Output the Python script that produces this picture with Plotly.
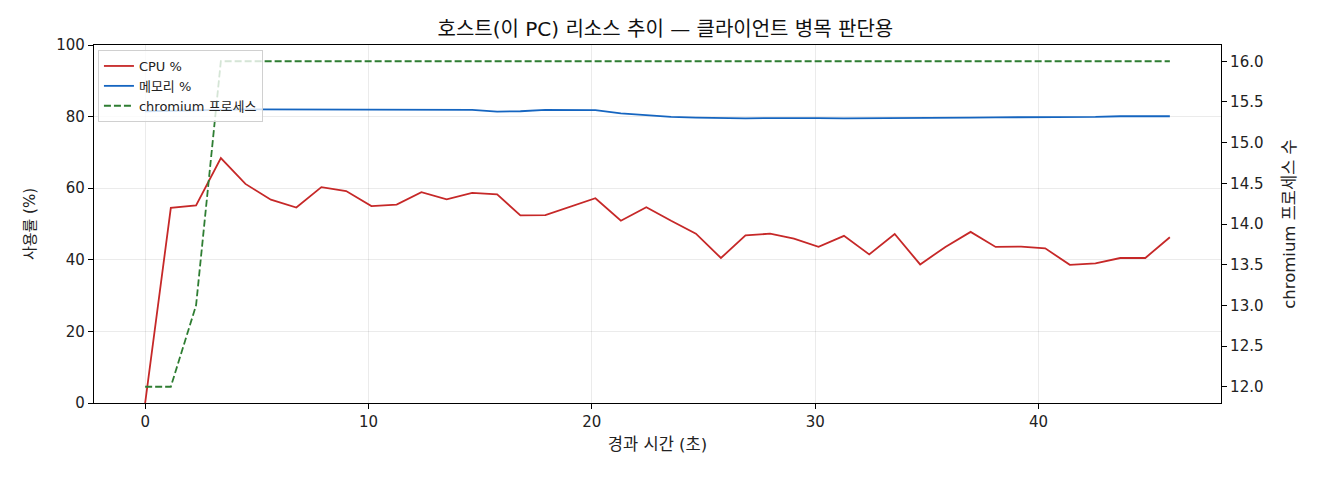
import plotly.graph_objects as go

# 호스트 리소스 추이 (CPU / 메모리 / chromium 프로세스 수)

elapsed_sec = [0, 1.15, 2.28, 3.39, 4.49, 5.63, 6.77, 7.89, 9.0, 10.13,
               11.26, 12.37, 13.5, 14.64, 15.76, 16.8, 17.92, 19.04, 20.16, 21.3,
               22.44, 23.55, 24.66, 25.78, 26.88, 27.98, 29.05, 30.15, 31.29, 32.42,
               33.56, 34.7, 35.83, 36.96, 38.08, 39.22, 40.3, 41.4, 42.55, 43.66,
               44.78, 45.88]

cpu_pct = [0, 54.5, 55.2, 68.4, 61.2, 56.8, 54.6, 60.3, 59.2, 55.0,
           55.4, 58.9, 56.9, 58.7, 58.3, 52.4, 52.5, 54.9, 57.2, 50.9,
           54.7, 50.9, 47.3, 40.5, 46.8, 47.3, 45.9, 43.6, 46.7, 41.5,
           47.2, 38.7, 43.6, 47.8, 43.6, 43.7, 43.2, 38.6, 39.0, 40.5,
           40.5, 46.3]

mem_pct = [81.5, 81.7, 81.8, 81.9, 82.0, 82.0, 82.0, 82.0, 82.0, 82.0,
           81.9, 81.9, 81.8, 81.9, 81.4, 81.5, 81.9, 81.8, 81.8, 80.9,
           80.4, 79.9, 79.7, 79.5, 79.5, 79.6, 79.5, 79.6, 79.5, 79.5,
           79.6, 79.6, 79.7, 79.7, 79.8, 79.8, 79.9, 79.9, 79.9, 80.1,
           80.1, 80.1]

chromium_procs = [12, 12, 13, 16, 16, 16, 16, 16, 16, 16,
                  16, 16, 16, 16, 16, 16, 16, 16, 16, 16,
                  16, 16, 16, 16, 16, 16, 16, 16, 16, 16,
                  16, 16, 16, 16, 16, 16, 16, 16, 16, 16,
                  16, 16]

FONT = 'DejaVu Sans, Noto Sans CJK KR'

fig = go.Figure()

fig.add_trace(go.Scatter(
    x=elapsed_sec, y=cpu_pct, mode='lines', name='CPU %',
    line=dict(color='#C62828', width=1.8)
))
fig.add_trace(go.Scatter(
    x=elapsed_sec, y=mem_pct, mode='lines', name='메모리 %',
    line=dict(color='#1565C0', width=1.8)
))
fig.add_trace(go.Scatter(
    x=elapsed_sec, y=chromium_procs, mode='lines', name='chromium 프로세스',
    line=dict(color='#2E7D32', width=1.8, dash='7px,3px'),
    yaxis='y2'
))

axis_common = dict(
    showline=True, linecolor='black', linewidth=1.2,
    ticks='outside', ticklen=5, tickcolor='black',
    tickfont=dict(size=15, color='#222'),
    zeroline=False,
)

# 페이지 body 여백(8px) 감안해서 margin 조정
fig.update_layout(
    width=1320, height=480,
    margin=dict(l=86, r=107, t=37, b=85),
    plot_bgcolor='white', paper_bgcolor='white',
    font=dict(family=FONT, color='#222'),
    title=dict(text='호스트(이 PC) 리소스 추이 — 클라이언트 병목 판단용',
               x=0.498, xanchor='center', y=0.957, yanchor='middle',
               font=dict(size=20, color='#111')),
    xaxis=dict(
        **axis_common, mirror=True,
        range=[-2.29, 48.17], tickvals=[0, 10, 20, 30, 40],
        showgrid=True, gridcolor='rgba(0,0,0,0.08)',
        title=dict(text='경과 시간 (초)', font=dict(size=16.5), standoff=8),
    ),
    yaxis=dict(
        **axis_common,
        range=[0, 100], tickvals=[0, 20, 40, 60, 80, 100],
        showgrid=True, gridcolor='rgba(0,0,0,0.08)',
        title=dict(text='사용률 (%)', font=dict(size=15), standoff=17),
    ),
    yaxis2=dict(
        **axis_common,
        overlaying='y', side='right',
        range=[11.8, 16.2], tickvals=[12, 12.5, 13, 13.5, 14, 14.5, 15, 15.5, 16],
        tickformat='.1f', showgrid=False,
        title=dict(text='chromium 프로세스 수', font=dict(size=16.5), standoff=20),
    ),
    legend=dict(
        x=0.0035, y=0.986, xanchor='left', yanchor='top',
        bgcolor='rgba(255,255,255,0.8)', bordercolor='#d0d0d0', borderwidth=1,
        font=dict(size=13), tracegroupgap=0, itemwidth=30,
    ),
    showlegend=True,
)

fig.write_html('out.html')
